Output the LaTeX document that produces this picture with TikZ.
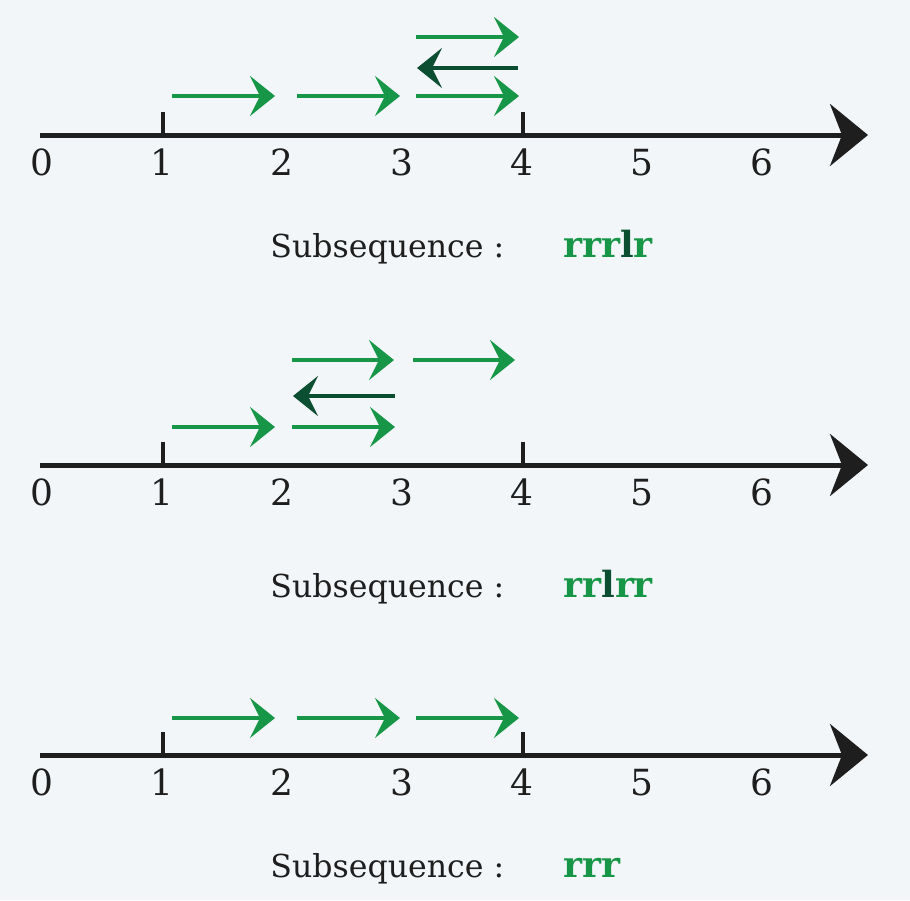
\documentclass[tikz,border=0pt]{standalone}
\usepackage{fontspec}
\setmainfont{DejaVu Serif}
\usetikzlibrary{arrows.meta}

\definecolor{bg}{RGB}{242,246,249}
\definecolor{stepgreen}{RGB}{24,150,72}
\definecolor{backgreen}{RGB}{12,78,50}
\definecolor{axisblack}{RGB}{30,30,30}

\tikzset{
  axis/.style={axisblack, line width=2.5pt, -{Stealth[length=19pt,width=31pt,inset=6pt]}},
  tickmark/.style={axisblack, line width=2pt},
  rmove/.style={stepgreen, line width=1.8pt, -{Stealth[length=12.5pt,width=20pt,inset=5pt]}},
  lmove/.style={backgreen, line width=1.8pt, -{Stealth[length=12.5pt,width=20pt,inset=5pt]}},
  num/.style={font=\fontsize{18}{20}\selectfont, text=axisblack, anchor=base, inner sep=0pt},
  caption/.style={font=\fontsize{15.8}{18}\selectfont, text=axisblack, anchor=base west, inner sep=0pt},
  moves/.style={font=\fontsize{18}{20}\selectfont\bfseries, text=stepgreen, anchor=base west, inner sep=0pt}
}

\begin{document}
\begin{tikzpicture}[x=0.5pt, y=-0.5pt]
\fill[bg] (0,0) rectangle (910,900);
\useasboundingbox (0,0) rectangle (910,900);

% the three number lines
\foreach \y in {135,465,755} {
  \draw[axis] (40,\y) -- (868,\y);
  \draw[tickmark] (163,\y) -- (163,\y-23);
  \draw[tickmark] (523,\y) -- (523,\y-23);
  \foreach \k in {0,...,6}
    \node[num] at (42+120*\k,\y+40) {\k};
}

% first line: r r r l r
\draw[rmove] (172,96) -- (275,96);
\draw[rmove] (297,96) -- (400,96);
\draw[rmove] (416,96) -- (519,96);
\draw[lmove] (518,68) -- (417,68);
\draw[rmove] (416,37) -- (519,37);
\node[caption] (cap1) at (270,257) {Subsequence :};
\node[moves] (seq1) at (563,257) {rrr\textcolor{backgreen}{l}r};

% second line: r r l r r
\draw[rmove] (172,427) -- (275,427);
\draw[rmove] (292,427) -- (395,427);
\draw[lmove] (395,396) -- (293,396);
\draw[rmove] (292,360) -- (394,360);
\draw[rmove] (413,360) -- (515,360);
\node[caption] (cap2) at (270,597) {Subsequence :};
\node[moves] (seq2) at (563,597) {rr\textcolor{backgreen}{l}rr};

% third line: r r r
\draw[rmove] (172,718) -- (275,718);
\draw[rmove] (297,718) -- (400,718);
\draw[rmove] (416,718) -- (519,718);
\node[caption] (cap3) at (270,877) {Subsequence :};
\node[moves] (seq3) at (563,877) {rrr};
\end{tikzpicture}
\end{document}
